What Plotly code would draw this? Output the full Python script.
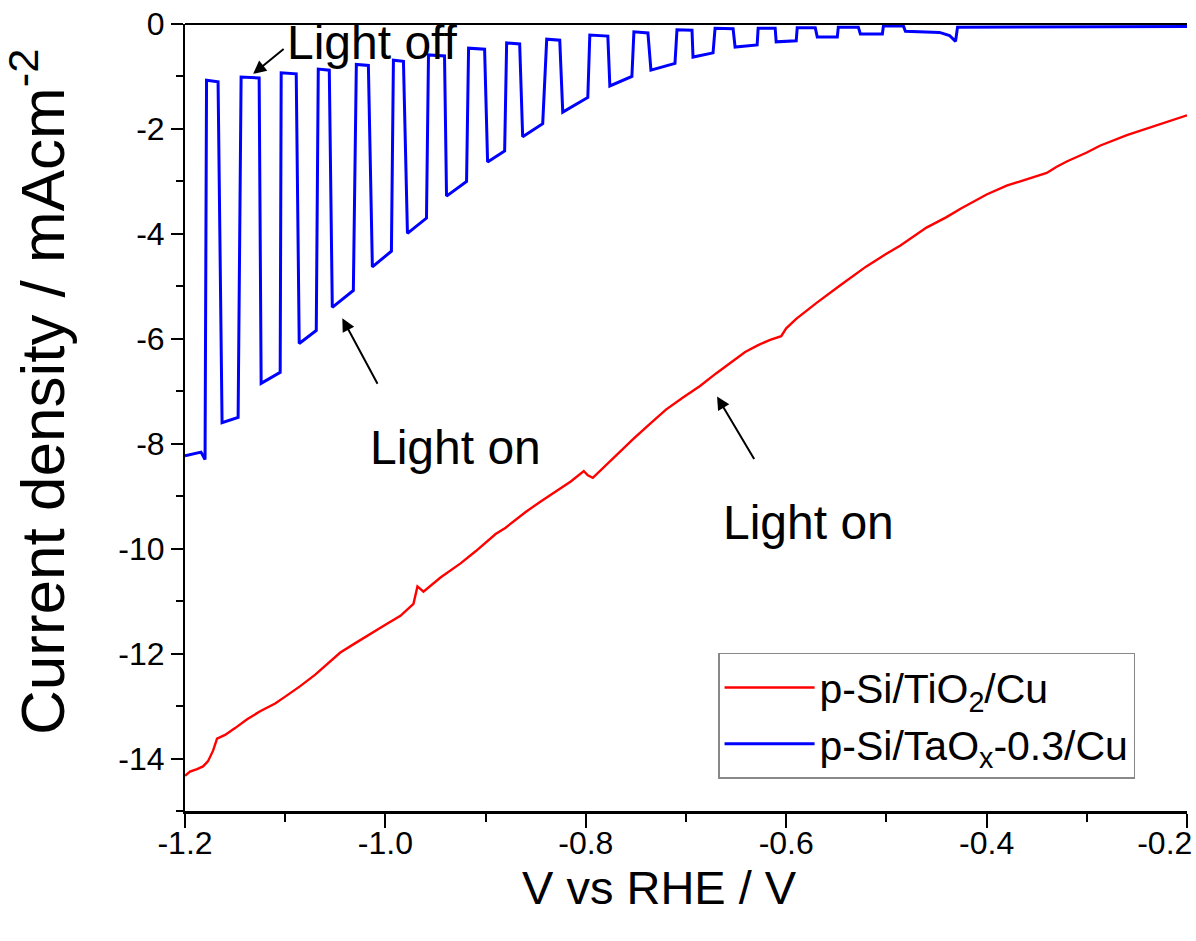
import plotly.graph_objects as go

# p-Si/TiO2/Cu linear sweep under continuous illumination (V vs RHE, mA cm^-2)
tio2_v = [-1.200, -1.195, -1.188, -1.182, -1.177, -1.172, -1.168, -1.160, -1.150,
          -1.138, -1.125, -1.118, -1.110, -1.100, -1.085, -1.070, -1.058, -1.045,
          -1.030, -1.015, -1.000, -0.985, -0.978, -0.972, -0.968, -0.962, -0.945,
          -0.925, -0.910, -0.896, -0.890, -0.880, -0.860, -0.845, -0.831, -0.815,
          -0.802, -0.798, -0.793, -0.785, -0.770, -0.752, -0.736, -0.720, -0.703,
          -0.686, -0.670, -0.655, -0.641, -0.628, -0.616, -0.605, -0.600, -0.590,
          -0.570, -0.546, -0.520, -0.500, -0.486, -0.460, -0.440, -0.426, -0.400,
          -0.380, -0.357, -0.340, -0.330, -0.320, -0.300, -0.287, -0.260, -0.230,
          -0.200]
tio2_j = [-14.33, -14.25, -14.20, -14.15, -14.05, -13.85, -13.62, -13.55, -13.42,
          -13.25, -13.10, -13.03, -12.95, -12.82, -12.62, -12.40, -12.20, -11.98,
          -11.80, -11.62, -11.45, -11.28, -11.15, -11.05, -10.72, -10.82, -10.55,
          -10.28, -10.05, -9.82, -9.72, -9.60, -9.30, -9.10, -8.92, -8.72,
          -8.52, -8.60, -8.65, -8.50, -8.22, -7.90, -7.62, -7.35, -7.12,
          -6.90, -6.66, -6.45, -6.25, -6.12, -6.02, -5.95, -5.80, -5.62,
          -5.32, -4.98, -4.62, -4.38, -4.22, -3.88, -3.68, -3.52, -3.25,
          -3.08, -2.95, -2.84, -2.72, -2.62, -2.45, -2.32, -2.12, -1.93,
          -1.74]

# p-Si/TaOx-0.3/Cu chopped-light sweep (light on: low current, light off: near zero)
taox_v = [-1.200, -1.184, -1.180, -1.1785, -1.167, -1.163, -1.147, -1.144, -1.126,
          -1.124, -1.105, -1.104, -1.089, -1.086, -1.069, -1.067, -1.056, -1.053,
          -1.032, -1.029, -1.017, -1.013, -0.994, -0.992, -0.982, -0.978, -0.959,
          -0.957, -0.941, -0.939, -0.919, -0.917, -0.901, -0.898, -0.881, -0.879,
          -0.866, -0.863, -0.843, -0.839, -0.826, -0.823, -0.798, -0.796, -0.778,
          -0.776, -0.754, -0.752, -0.738, -0.735, -0.711, -0.709, -0.694, -0.693,
          -0.673, -0.671, -0.653, -0.651, -0.629, -0.628, -0.611, -0.610, -0.590,
          -0.589, -0.571, -0.569, -0.549, -0.548, -0.528, -0.526, -0.504, -0.503,
          -0.483, -0.481, -0.447, -0.437, -0.431, -0.429, -0.200]
taox_j = [-8.23, -8.16, -8.30, -1.07, -1.10, -7.60, -7.50, -1.01, -1.03,
          -6.85, -6.64, -0.93, -0.95, -6.09, -5.84, -0.86, -0.88, -5.40,
          -5.08, -0.77, -0.79, -4.63, -4.33, -0.69, -0.71, -3.99, -3.70,
          -0.59, -0.61, -3.28, -3.00, -0.46, -0.48, -2.63, -2.42, -0.36,
          -0.38, -2.15, -1.90, -0.29, -0.31, -1.68, -1.40, -0.21, -0.23,
          -1.18, -1.00, -0.15, -0.17, -0.88, -0.75, -0.11, -0.12, -0.63,
          -0.55, -0.08, -0.09, -0.44, -0.40, -0.08, -0.08, -0.34, -0.32,
          -0.07, -0.07, -0.25, -0.25, -0.06, -0.06, -0.19, -0.19, -0.04,
          -0.04, -0.14, -0.16, -0.22, -0.33, -0.06, -0.05]

x_ticks = [-1.2, -1.0, -0.8, -0.6, -0.4, -0.2]
# the last label is padded so it stays inside the page at the right edge
x_tick_text = ["-1.2", "-1.0", "-0.8", "-0.6", "-0.4",
               "-0.2\u00a0\u00a0\u00a0\u00a0\u00a0"]
y_ticks = [0, -2, -4, -6, -8, -10, -12, -14]
y_tick_text = ["0", "-2", "-4", "-6", "-8", "-10", "-12", "-14"]

FONT = "Liberation Sans, Arial, sans-serif"

fig = go.Figure()
fig.add_trace(go.Scatter(x=tio2_v, y=tio2_j, mode="lines",
                         line=dict(color="#ff0000", width=2.4),
                         name="p-Si/TiO<sub>2</sub>/Cu"))
fig.add_trace(go.Scatter(x=taox_v, y=taox_j, mode="lines",
                         line=dict(color="#0000ff", width=3),
                         name="p-Si/TaO<sub>x</sub>-0.3/Cu"))

# arrows pointing at the chopped/illuminated features
arrow = dict(showarrow=True, arrowhead=2, arrowsize=1.3, arrowwidth=2,
             arrowcolor="black", text="", xref="x", yref="y")
fig.add_annotation(x=-1.132, y=-0.95, ax=32, ay=-26, **arrow)
fig.add_annotation(x=-1.043, y=-5.61, ax=36, ay=67, **arrow)
fig.add_annotation(x=-0.669, y=-7.10, ax=38, ay=64, **arrow)

label = dict(showarrow=False, xref="x", yref="y",
             font=dict(family=FONT, size=48, color="black"))
fig.add_annotation(x=-1.013, y=-0.36, text="Light off", **label)
fig.add_annotation(x=-0.930, y=-8.07, text="Light on", **label)
fig.add_annotation(x=-0.578, y=-9.50, text="Light on", **label)

# axis titles
fig.add_annotation(text="V vs RHE / V", xref="paper", yref="paper",
                   x=0.474, y=-0.097, xanchor="center", yanchor="middle",
                   showarrow=False, font=dict(family=FONT, size=47))
fig.add_annotation(text="Current density / mAcm<sup>-2</sup>", xref="paper",
                   yref="paper", x=-0.146, y=0.532, xanchor="center",
                   yanchor="middle", textangle=-90, showarrow=False,
                   font=dict(family=FONT, size=62))

# top frame line
fig.add_shape(type="line", xref="paper", yref="paper", x0=0, x1=1, y0=1, y1=1,
              line=dict(color="black", width=2))

fig.update_layout(
    width=1196, height=941,
    margin=dict(l=185, r=9, t=24, b=130, autoexpand=False),
    paper_bgcolor="white", plot_bgcolor="white",
    font=dict(family=FONT, color="black"),
    showlegend=True,
    legend=dict(x=0.532, y=0.201, xanchor="left", yanchor="top",
                bgcolor="white", bordercolor="#888888", borderwidth=1.5,
                font=dict(family=FONT, size=41), tracegroupgap=2,
                itemwidth=90),
    xaxis=dict(range=[-1.2, -0.2], tickvals=x_ticks, ticktext=x_tick_text,
               automargin=False,
               showgrid=False, zeroline=False, showline=True,
               linecolor="black", linewidth=3, ticks="outside",
               ticklen=14, tickwidth=2, tickcolor="black",
               ticklabeloverflow="allow", ticklabelstandoff=-12,
               tickfont=dict(family=FONT, size=32),
               minor=dict(dtick=0.1, tick0=-1.2, ticks="outside", ticklen=8,
                          tickwidth=2, tickcolor="black")),
    yaxis=dict(range=[-15, 0], tickvals=y_ticks, ticktext=y_tick_text,
               automargin=False,
               showgrid=False, zeroline=False, showline=True,
               linecolor="black", linewidth=2, ticks="outside",
               ticklen=12, tickwidth=2, tickcolor="black",
               ticklabeloverflow="allow",
               tickfont=dict(family=FONT, size=32),
               minor=dict(dtick=1, tick0=0, ticks="outside", ticklen=7,
                          tickwidth=2, tickcolor="black")),
)

fig.write_html("out.html")
